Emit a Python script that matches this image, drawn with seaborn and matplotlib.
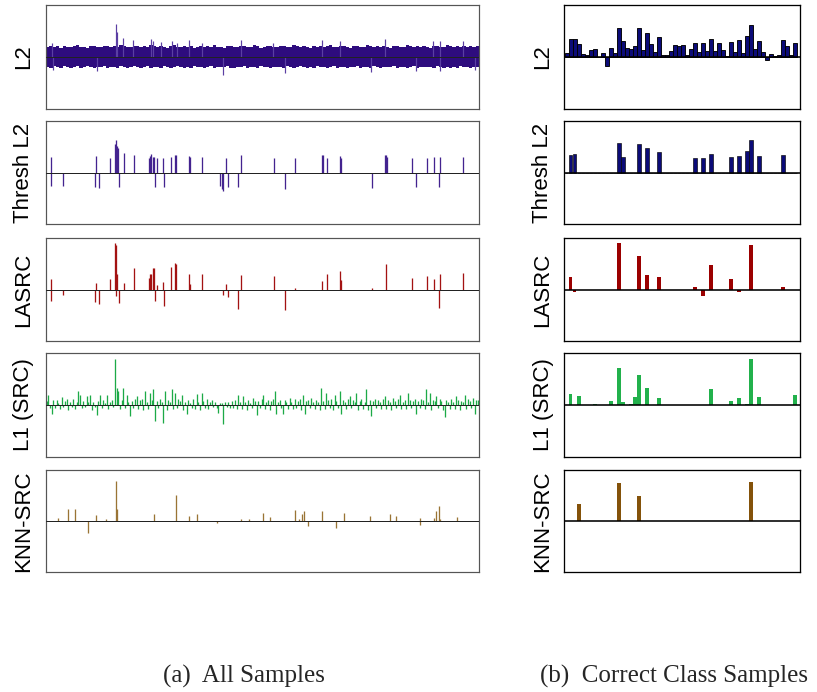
import numpy as np
import pandas as pd
import matplotlib
matplotlib.use("Agg")
import matplotlib.pyplot as plt
import seaborn as sns

# ---------------- DATA ----------------
methods = ["L2", "Thresh L2", "LASRC", "L1 (SRC)", "KNN-SRC"]
captions = ["(a)  All Samples", "(b)  Correct Class Samples"]

# Left column: x in sample units (0..1300). Values relative to half-height.
n_all = 1300
band_pos = list(range(5, 1300, 10))  # 130 band positions
l2_band_up = [20, 22, 19, 21, 18, 22, 20, 19, 21, 23, 19, 20, 18, 21, 22, 19, 20, 21, 21, 19,
              22, 20, 23, 21, 19, 20, 22, 21, 19, 21, 20, 23, 21, 19, 22, 20, 18, 21, 23, 20,
              19, 22, 20, 21, 18, 20, 22, 19, 21, 20, 23, 19, 20, 18, 21, 22, 20, 19, 21, 22,
              20, 19, 23, 21, 18, 20, 22, 21, 19, 20, 22, 21, 19, 20, 23, 21, 19, 22, 20, 18,
              21, 20, 22, 19, 21, 23, 20, 19, 22, 21, 20, 18, 21, 22, 20, 19, 23, 21, 20, 22,
              19, 21, 20, 18, 22, 21, 19, 20, 23, 21, 20, 22, 19, 21, 20, 18, 22, 21, 20, 19,
              23, 21, 20, 22, 19, 21, 20, 22, 19, 21]
l2_band_dn = [-19, -21, -18, -20, -21, -17, -19, -22, -20, -18, -21, -19, -17, -20, -22, -20, -19, -18, -21, -20,
              -19, -22, -18, -20, -21, -19, -17, -20, -22, -19, -18, -21, -20, -19, -22, -18, -20, -21, -19, -17,
              -20, -22, -19, -21, -18, -20, -19, -22, -20, -18, -21, -19, -20, -20, -18, -21, -22, -19, -20, -18,
              -21, -19, -20, -22, -18, -20, -19, -21, -20, -19, -19, -22, -18, -20, -21, -19, -18, -20, -22, -19,
              -21, -18, -20, -19, -22, -20, -18, -21, -19, -20, -22, -19, -20, -18, -21, -20, -19, -22, -18, -20,
              -21, -19, -20, -20, -18, -21, -20, -19, -22, -20, -18, -21, -19, -20, -20, -19, -21, -18, -20, -22,
              -19, -21, -20, -21, -18, -20, -19, -21, -20, -19]
l2_spike_pos = [17, 209, 214, 232, 262, 315, 322, 345, 379, 392, 428, 469, 584, 682, 829, 882,
                1019, 1162, 1182, 1252, 22, 152, 530, 717, 977, 1112, 1182, 1287]
l2_spike_val = [0.27, 0.63, 0.49, 0.36, 0.32, 0.34, 0.30, 0.28, 0.30, 0.27, 0.33, 0.27, 0.32, 0.27, 0.33, 0.30,
                0.35, 0.30, 0.30, 0.30, -0.25, -0.27, -0.34, -0.30, -0.28, -0.26, -0.26, -0.25]

thr_pos = [15, 15, 51, 146, 151, 160, 192, 207, 209, 212, 215, 220, 233, 263, 308, 312, 315, 322, 325,
           328, 332, 352, 354, 376, 388, 390, 428, 431, 469, 523, 527, 531, 540, 546, 575, 584, 686, 717,
           748, 829, 832, 845, 882, 886, 979, 1017, 1020, 1023, 1099, 1112, 1143, 1164, 1180, 1182, 1252]
thr_val = [0.31, -0.27, -0.27, -0.29, 0.32, -0.30, 0.28, 0.56, 0.63, 0.52, 0.48, -0.29, 0.37, 0.34, 0.29,
           0.32, 0.35, 0.31, 0.30, -0.28, 0.28, 0.28, -0.28, 0.31, 0.34, 0.34, 0.33, 0.31, 0.30, -0.27,
           -0.32, -0.35, 0.28, -0.28, -0.28, 0.34, 0.28, -0.32, 0.29, 0.34, 0.34, 0.29, 0.32, 0.28, -0.30,
           0.34, 0.34, 0.31, 0.28, -0.28, 0.28, 0.30, -0.29, 0.31, 0.31]

lasrc_pos = [15, 15, 51, 146, 151, 160, 192, 208, 211, 209, 214, 220, 233, 263, 308, 312, 315, 322, 325,
             328, 332, 352, 354, 376, 388, 390, 428, 431, 469, 531, 540, 546, 575, 584, 686, 717, 748, 829,
             845, 882, 886, 979, 1022, 1099, 1143, 1164, 1180, 1182, 1252]
lasrc_val = [0.21, -0.22, -0.11, -0.24, 0.13, -0.29, 0.21, 0.91, 0.86, -0.12, 0.30, -0.27, 0.13, 0.42, 0.23,
             0.30, 0.30, 0.41, 0.41, -0.22, 0.08, 0.15, -0.32, 0.43, 0.52, 0.50, 0.30, 0.10, 0.31, -0.11,
             0.10, -0.14, -0.38, 0.29, 0.26, -0.40, 0.02, 0.16, 0.30, 0.36, 0.19, 0.02, 0.49, 0.23, 0.27,
             0.20, -0.36, 0.30, 0.32]

l1_pos = list(range(2, 1300, 5))  # 260 positions
l1_val = [8, 20, -6, -18, 10, -5, 9, 4, -8, 15, -4, 7, 11, -9, 6, -3, 12, -7, 5, 27,
          20, -6, 8, -4, 17, 6, 20, -9, 5, -3, -20, 7, 20, -5, 9, 4, 20, -7, 6, 10,
          -4, 88, 33, 27, -8, 10, 33, -6, 20, 5, -21, 8, -5, 11, 18, -7, 9, 12, -10, 27,
          6, -8, 24, 10, 30, -30, 8, -6, 12, 5, -34, 27, -9, 10, 6, 30, -8, 24, -5, 11,
          7, 20, -9, 6, -18, 10, 4, -6, 12, -7, 22, 5, -10, 24, 8, -5, 11, -8, 6, 9,
          -4, 5, -6, -15, 4, 3, -36, 6, -4, 5, -5, 7, -6, 9, -7, 20, 5, -8, 17, 6,
          -9, 10, 4, -6, 14, 7, -19, 8, -5, 11, 20, -7, 6, 9, -10, 8, 12, 27, -18, 6,
          9, -6, -18, 10, 5, -8, 14, 6, -7, 11, -5, 8, 12, -9, 20, -18, 7, 9, -6, 14,
          5, -8, 10, 6, -10, 32, 8, -7, 24, 10, -6, 12, -9, 20, 7, -5, 27, -18, 9, 6,
          -8, 11, 17, -6, 9, 5, 24, -10, 8, 12, -7, 6, 30, -9, 10, -21, 7, 11, -6, 9,
          5, -8, 12, 17, -7, 10, 6, -9, 14, 8, -5, 11, 20, -8, 6, 9, -7, 24, 10, -6,
          8, 12, -18, 7, -5, 11, 9, -8, 30, 6, 24, -9, 10, 7, 17, -6, 12, 8, -10, -23,
          9, 6, -8, 11, 5, -7, 17, 10, -9, 8, 6, 20, -8, 11, 7, -6, 14, -18, 9, 10]

knn_pos = [37, 65, 87, 127, 149, 179, 209, 214, 324, 389, 429, 454, 512, 584, 609, 651, 674, 748, 759,
           770, 774, 787, 830, 872, 894, 972, 1034, 1052, 1124, 1124, 1165, 1172, 1179, 1184, 1235]
knn_val = [0.05, 0.23, 0.24, -0.23, 0.11, 0.03, 0.78, 0.23, 0.13, 0.51, 0.09, 0.13, -0.03, 0.03, 0.04,
           0.15, 0.07, 0.21, 0.03, 0.13, 0.20, -0.10, 0.19, -0.13, 0.15, 0.10, 0.14, 0.09, 0.05, -0.08,
           0.05, 0.19, 0.29, 0.03, 0.08]

# Right column: correct class samples (58 samples)
n_cls = 58
cls_l2 = [0.08, 0.34, 0.35, 0.25, 0.06, 0.04, 0.13, 0.16, 0.00, 0.08, -0.17, 0.18, 0.08, 0.56, 0.31,
          0.18, 0.16, 0.22, 0.56, 0.14, 0.46, 0.25, 0.10, 0.38, 0.03, 0.03, 0.11, 0.24, 0.21, 0.24,
          0.04, 0.16, 0.27, 0.10, 0.27, 0.11, 0.35, 0.11, 0.27, 0.13, 0.01, 0.29, 0.10, 0.32, 0.08,
          0.41, 0.62, 0.16, 0.31, 0.10, -0.05, 0.06, 0.02, 0.04, 0.33, 0.22, 0.03, 0.27]
cls_thr = {1: 0.34, 2: 0.36, 13: 0.57, 14: 0.31, 18: 0.55, 20: 0.47, 23: 0.39, 32: 0.29, 34: 0.29,
           36: 0.36, 41: 0.30, 43: 0.32, 45: 0.42, 46: 0.63, 48: 0.32, 54: 0.34}
cls_lasrc = {1: 0.25, 2: -0.05, 13: 0.90, 18: 0.65, 20: 0.29, 23: 0.24, 32: 0.04, 34: -0.12, 36: 0.48,
             41: 0.20, 43: -0.05, 46: 0.87, 54: 0.05}
cls_l1 = {1: 0.21, 3: 0.17, 7: 0.01, 11: 0.08, 13: 0.71, 14: 0.05, 16: 0.02, 17: 0.16, 18: 0.58,
          20: 0.32, 23: 0.14, 36: 0.31, 41: 0.08, 43: 0.13, 45: 0.02, 46: 0.88, 48: 0.15, 57: 0.19}
cls_knn = {3: 0.33, 13: 0.75, 18: 0.50, 46: 0.77}

# ---------------- STYLE ----------------
sns.set_style("white")
plt.rcParams["font.family"] = ["Liberation Sans", "DejaVu Sans"]

W, H = 817, 692
fig = plt.figure(figsize=(W / 100, H / 100), dpi=100)

rows = [(5, 109), (121, 224), (238, 341), (353, 457), (470, 572)]
left_x = (46, 479)
right_x = (564, 800)
px = 0.72  # points per pixel


def add_ax(x0, x1, y0, y1):
    return fig.add_axes([x0 / W, 1 - y1 / H, (x1 - x0) / W, (y1 - y0) / H])


left_cols = ["#2e0c7e", "#43238f", "#a31212", "#1caa47", "#9a7435"]
right_cols = ["#0b0b78", "#0b0b78", "#9b0000", "#22b14c", "#84520a"]

def to_full(d):
    return [d.get(i, 0.0) for i in range(n_cls)]

right_data = [cls_l2, to_full(cls_thr), to_full(cls_lasrc), to_full(cls_l1), to_full(cls_knn)]
left_sparse = [None, (thr_pos, thr_val), (lasrc_pos, lasrc_val),
               (l1_pos, [v / 100 for v in l1_val]), (knn_pos, knn_val)]

for r, (y0, y1) in enumerate(rows):
    # ---- left panel ----
    ax = add_ax(left_x[0], left_x[1], y0, y1)
    if r == 0:
        ax.bar(band_pos, [v / 100 for v in l2_band_up], width=10, color=left_cols[0], linewidth=0)
        ax.bar(band_pos, [v / 100 for v in l2_band_dn], width=10, color=left_cols[0], linewidth=0)
        ax.vlines(l2_spike_pos, 0, l2_spike_val, color="#5b3fa3", linewidth=1.2 * px, capstyle="butt")
    else:
        p, v = left_sparse[r]
        lw = 1.3 * px
        ax.vlines(p, 0, v, color=left_cols[r], linewidth=lw, capstyle="butt")
    ax.axhline(0, color="#222222", linewidth=1.0 * px, zorder=5)
    ax.set_xlim(0, n_all)
    ax.set_ylim(-1, 1)
    ax.set_xticks([]); ax.set_yticks([])
    for s in ax.spines.values():
        s.set_color("#555555"); s.set_linewidth(1.2 * px); s.set_visible(True)
    fig.text(24 / W, 1 - ((y0 + y1) / 2) / H, methods[r], rotation=90, ha="center", va="center",
             fontsize=16, color="black")

    # ---- right panel ----
    axr = add_ax(right_x[0], right_x[1], y0, y1)
    df = pd.DataFrame({"sample": list(range(n_cls)), "coef": right_data[r]})
    if r == 0:
        sns.barplot(data=df, x="sample", y="coef", ax=axr, color=right_cols[r], saturation=1,
                    width=1.0, edgecolor="black", linewidth=0.9 * px)
    elif r == 1:
        sns.barplot(data=df, x="sample", y="coef", ax=axr, color=right_cols[r], saturation=1,
                    width=0.9, edgecolor="black", linewidth=0.6 * px)
    else:
        sns.barplot(data=df, x="sample", y="coef", ax=axr, color=right_cols[r], saturation=1,
                    width=0.9, linewidth=0)
    axr.axhline(0, color="black", linewidth=1.6 * px, zorder=5)
    axr.set_xlim(-0.67, 58.25)
    axr.set_ylim(-1, 1)
    axr.set_xticks([]); axr.set_yticks([])
    axr.set_xlabel(""); axr.set_ylabel("")
    for s in axr.spines.values():
        s.set_color("black"); s.set_linewidth(1.3 * px); s.set_visible(True)
    fig.text(543 / W, 1 - ((y0 + y1) / 2) / H, methods[r], rotation=90, ha="center", va="center",
             fontsize=16, color="black")

fig.text(244 / W, 1 - 676 / H, captions[0], ha="center", va="center", fontsize=18,
         family=["Liberation Serif", "DejaVu Serif"])
fig.text(674 / W, 1 - 676 / H, captions[1], ha="center", va="center", fontsize=18,
         family=["Liberation Serif", "DejaVu Serif"])

fig.savefig("out.png", dpi=100, facecolor="white")
